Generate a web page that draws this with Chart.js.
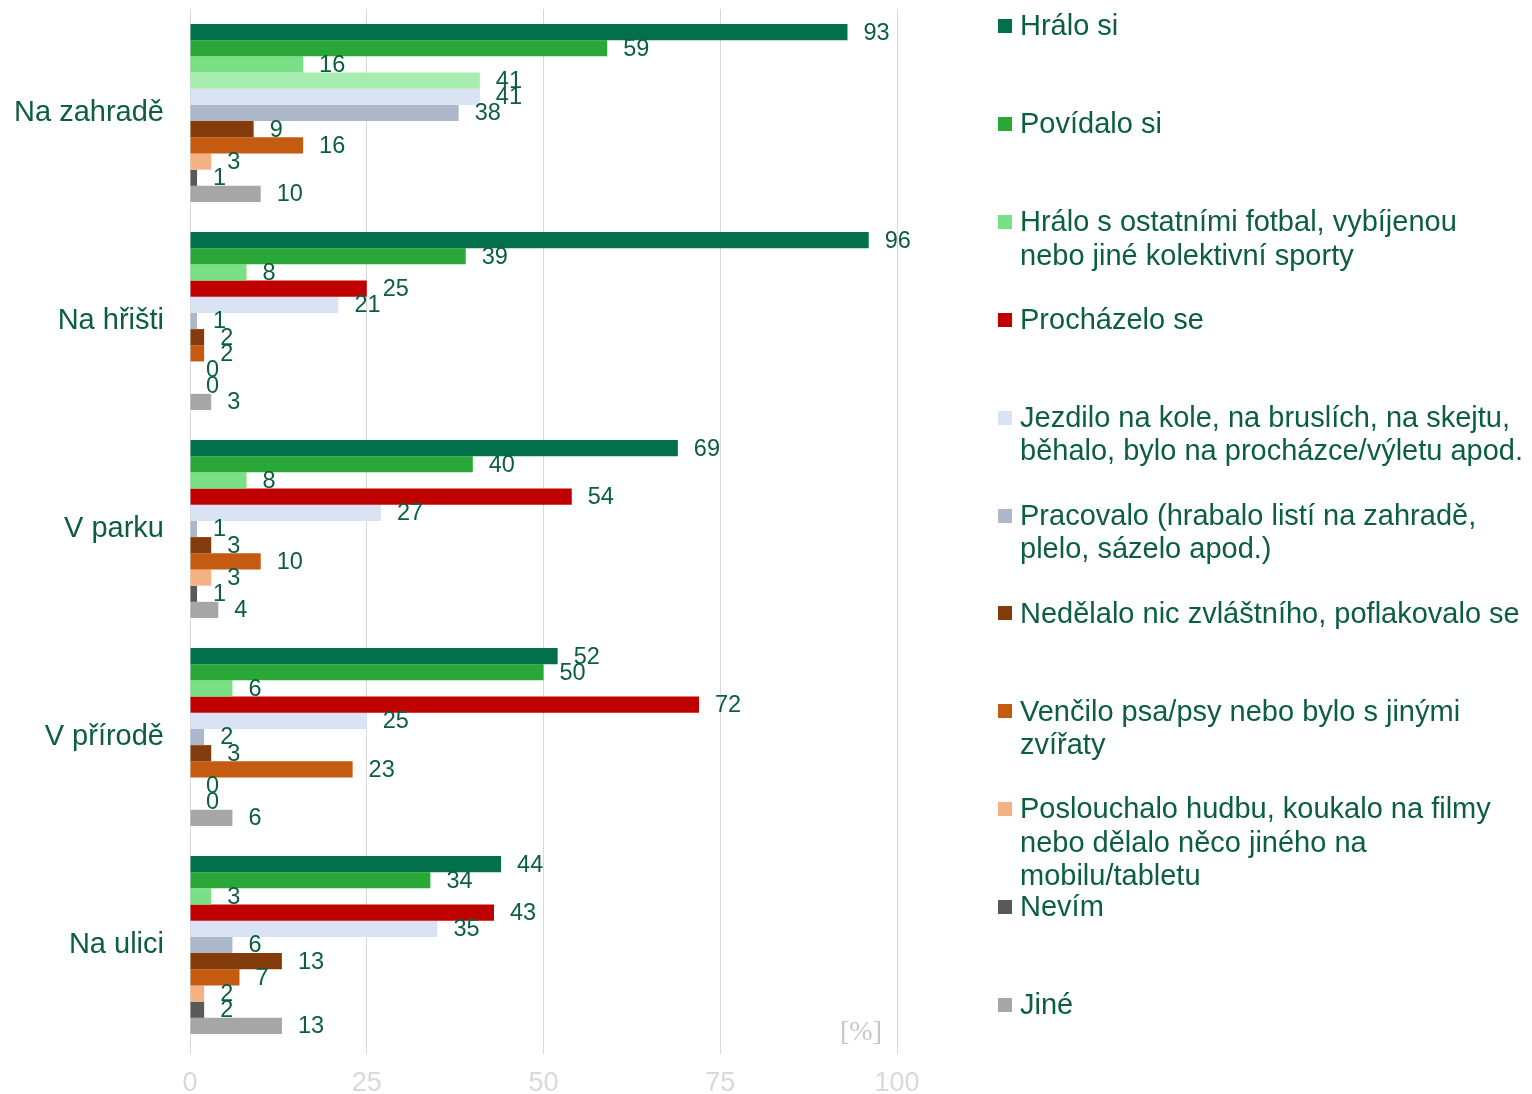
<!DOCTYPE html>
<html>
<head>
<meta charset="utf-8">
<script src="https://cdn.jsdelivr.net/npm/chart.js@4"></script>
<style>
  html, body { margin: 0; padding: 0; background: #fff; }
  #wrap { position: relative; width: 1532px; height: 1094px; overflow: hidden; }
  #chartBox { position: absolute; left: 0; top: 0; width: 940px; height: 1094px; }
  #legend { position: absolute; left: 0; top: 0; width: 1532px; height: 1094px; pointer-events: none; }
  .item { position: absolute; left: 1020px; width: 512px; font-family: "Liberation Sans", Arial, sans-serif;
          font-size: 29px; line-height: 33.5px; color: #0b5e3f; white-space: nowrap; }
  .box { position: absolute; left: 998px; width: 14px; height: 14px; }
</style>
</head>
<body>
<div id="wrap">
  <div id="chartBox"><canvas id="chart"></canvas></div>
  <div id="legend"></div>
</div>
<script>
const categories = ['Na zahradě', 'Na hřišti', 'V parku', 'V přírodě', 'Na ulici'];
const seriesNames = [
  'Hrálo si',
  'Povídalo si',
  'Hrálo s ostatními fotbal, vybíjenou\nnebo jiné kolektivní sporty',
  'Procházelo se',
  'Jezdilo na kole, na bruslích, na skejtu,\nběhalo, bylo na procházce/výletu apod.',
  'Pracovalo (hrabalo listí na zahradě,\nplelo, sázelo apod.)',
  'Nedělalo nic zvláštního, poflakovalo se',
  'Venčilo psa/psy nebo bylo s jinými\nzvířaty',
  'Poslouchalo hudbu, koukalo na filmy\nnebo dělalo něco jiného na\nmobilu/tabletu',
  'Nevím',
  'Jiné'
];
const hraloSi     = [93, 96, 69, 52, 44];
const povidaloSi  = [59, 39, 40, 50, 34];
const kolektivni  = [16, 8, 8, 6, 3];
const prochazelo  = [41, 25, 54, 72, 43];
const jezdilo     = [41, 21, 27, 25, 35];
const pracovalo   = [38, 1, 1, 2, 6];
const nedelalo    = [9, 2, 3, 3, 13];
const vencilo     = [16, 2, 10, 23, 7];
const poslouchalo = [3, 0, 3, 0, 2];
const nevim       = [1, 0, 1, 0, 2];
const jine        = [10, 3, 4, 6, 13];
const xTicks = [0, 25, 50, 75, 100];

const seriesValues = [hraloSi, povidaloSi, kolektivni, prochazelo, jezdilo, pracovalo,
                      nedelalo, vencilo, poslouchalo, nevim, jine];
const colors = ['#04704b', '#29a838', '#79e085', '#c00000', '#dae3f3', '#adb9ca',
                '#843c0c', '#c55a11', '#f4b183', '#595959', '#a6a6a6'];
// in the source the first "Procházelo se" bar is drawn pale green
const barColors = colors.map((c, i) => i === 3 ? ['#a8edb0', c, c, c, c] : c);

const textColor = '#0b5e3f';
const font = '"Liberation Sans", Arial, sans-serif';

// --- Legend ---
const legendEl = document.getElementById('legend');
seriesNames.forEach((name, i) => {
  const cy = 26 + i * 97.9;
  const box = document.createElement('div');
  box.className = 'box';
  box.style.top = (cy - 7) + 'px';
  box.style.background = colors[i];
  legendEl.appendChild(box);
  const item = document.createElement('div');
  item.className = 'item';
  item.style.top = (cy - 16.75) + 'px';
  item.innerHTML = name.split('\n').join('<br>');
  legendEl.appendChild(item);
});

// --- Value labels + unit ---
const valueLabels = {
  id: 'valueLabels',
  afterDatasetsDraw(chart) {
    const ctx = chart.ctx;
    ctx.save();
    ctx.font = '23.5px ' + font;
    ctx.fillStyle = textColor;
    ctx.textAlign = 'left';
    ctx.textBaseline = 'middle';
    chart.data.datasets.forEach((ds, di) => {
      chart.getDatasetMeta(di).data.forEach((bar, i) => {
        ctx.fillText(String(ds.data[i]), bar.x + 16, bar.y + 1);
      });
    });
    ctx.font = '28px "Liberation Serif", "Times New Roman", serif';
    ctx.fillStyle = '#c8c8c8';
    ctx.textAlign = 'right';
    ctx.fillText('[%]', 882, 1033);
    ctx.restore();
  }
};

new Chart(document.getElementById('chart'), {
  type: 'bar',
  data: {
    labels: categories,
    datasets: seriesValues.map((vals, i) => ({
      label: seriesNames[i],
      data: vals,
      backgroundColor: barColors[i],
      borderWidth: 0,
      categoryPercentage: 0.856,
      barPercentage: 1
    }))
  },
  options: {
    indexAxis: 'y',
    responsive: true,
    maintainAspectRatio: false,
    animation: false,
    layout: { padding: { top: 9, right: 43, left: 0, bottom: 0 } },
    plugins: { legend: { display: false }, tooltip: { enabled: false } },
    scales: {
      x: {
        min: 0, max: 100,
        afterBuildTicks: s => { s.ticks = xTicks.map(v => ({ value: v })); },
        afterFit: s => { s.height = 45; },
        grid: { color: '#d9d9d9', lineWidth: 1, tickLength: 5, drawTicks: true },
        border: { display: false },
        ticks: { color: '#d9d9d9', font: { family: font, size: 27 }, padding: 13, maxRotation: 0 }
      },
      y: {
        afterFit: s => { s.width = 190; s.paddingTop = 0; s.paddingBottom = 0; },
        grid: { display: false, drawTicks: false },
        border: { display: false },
        ticks: { color: textColor, font: { family: font, size: 29 }, padding: 26 }
      }
    }
  },
  plugins: [valueLabels]
});
</script>
</body>
</html>
